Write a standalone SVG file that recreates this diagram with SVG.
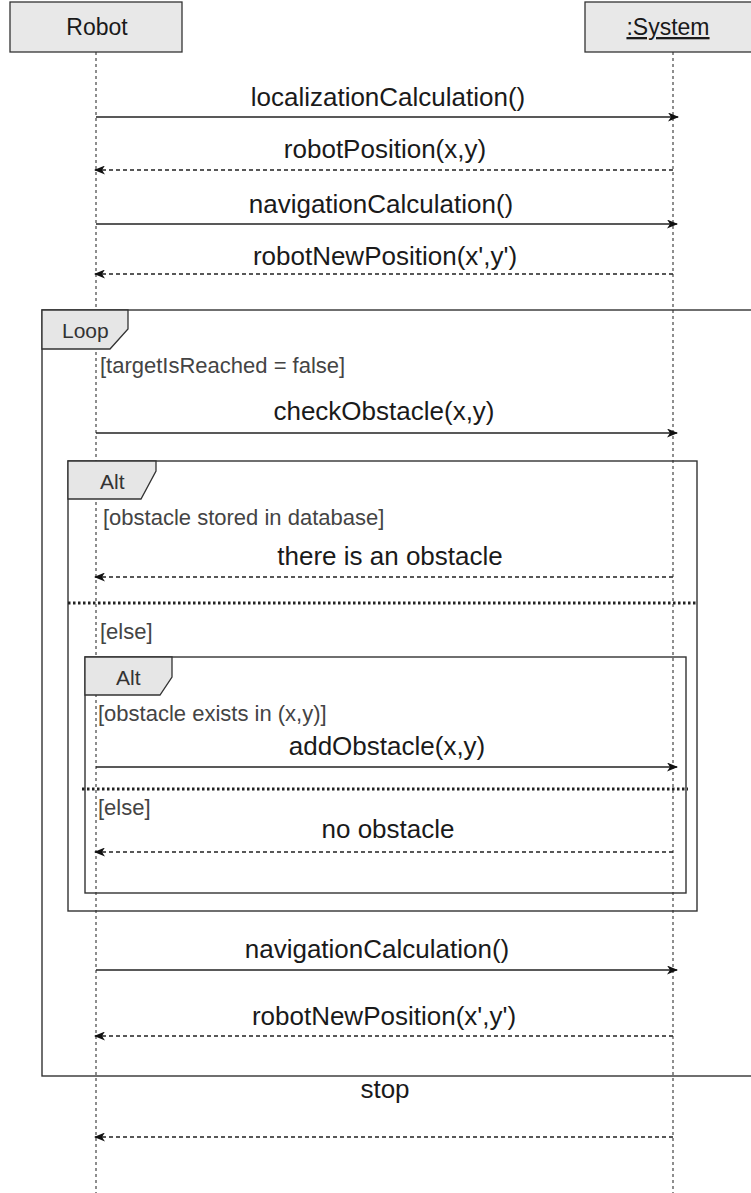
<svg xmlns="http://www.w3.org/2000/svg" width="751" height="1193" viewBox="0 0 751 1193">
<style>
.bg{fill:#fff}
.box{fill:#e8e8e8;stroke:#333;stroke-width:1.3}
.life{stroke:#444;stroke-width:1.2;stroke-dasharray:3 3;fill:none}
.frame{fill:none;stroke:#333;stroke-width:1.4}
.tab{fill:#e6e6e6;stroke:#333;stroke-width:1.3}
.sep{stroke:#222;stroke-width:3;stroke-dasharray:2.5 2.5;fill:none}
.call{stroke:#222;stroke-width:1.4;fill:none;marker-end:url(#ah)}
.ret{stroke:#222;stroke-width:1.3;stroke-dasharray:4 3;fill:none;marker-end:url(#ah)}
.msg{font-family:"Liberation Sans",Arial,sans-serif;font-size:26px;fill:#1a1a1a;text-anchor:middle}
.name{font-family:"Liberation Sans",Arial,sans-serif;font-size:23px;fill:#1a1a1a;text-anchor:middle}
.guard{font-family:"Liberation Sans",Arial,sans-serif;font-size:22px;fill:#444}
.tabt{font-family:"Liberation Sans",Arial,sans-serif;font-size:21px;fill:#333}
</style>
<defs>
<marker id="ah" markerWidth="11" markerHeight="9" refX="10" refY="4.5" orient="auto" markerUnits="userSpaceOnUse">
<path d="M0,0 L11,4.5 L0,9 L3,4.5 Z" fill="#111"/>
</marker>
</defs>
<rect class="bg" x="0" y="0" width="751" height="1193"/>

<g id="lifelines">
<line class="life" x1="96" y1="52" x2="96" y2="1193"/>
<line class="life" x1="673" y1="52" x2="673" y2="1193"/>
</g>

<g id="robot">
<rect class="box" x="10" y="2" width="172" height="50"/>
<text class="name" x="97" y="35">Robot</text>
</g>
<g id="system">
<rect class="box" x="585" y="2" width="170" height="50"/>
<text class="name" x="668" y="35" text-decoration="underline">:System</text>
</g>

<g id="loop">
<rect class="frame" x="42" y="310" width="720" height="766"/>
<path class="tab" d="M42,310 H128 V329 L110,349 H42 Z"/>
<text class="tabt" x="62" y="338">Loop</text>
<text class="guard" x="100" y="373">[targetIsReached = false]</text>
</g>

<g id="alt-outer">
<rect class="frame" x="68" y="461" width="629" height="450"/>
<path class="tab" d="M68,461 H156 V471 L141,499 H68 Z"/>
<text class="tabt" x="100" y="489">Alt</text>
<text class="guard" x="103" y="525">[obstacle stored in database]</text>
<line class="sep" x1="68" y1="603" x2="697" y2="603"/>
<text class="guard" x="100" y="639">[else]</text>
</g>

<g id="alt-inner">
<rect class="frame" x="85" y="657" width="601" height="236"/>
<path class="tab" d="M85,657 H172 V677 L160,695 H85 Z"/>
<text class="tabt" x="116" y="685">Alt</text>
<text class="guard" x="98" y="721">[obstacle exists in (x,y)]</text>
<line class="sep" x1="82" y1="789" x2="688" y2="789"/>
<text class="guard" x="98" y="815">[else]</text>
</g>

<g id="connectors">
<line class="call" x1="96" y1="117" x2="678" y2="117"/>
<text class="msg" x="388" y="106">localizationCalculation()</text>
<line class="ret" x1="673" y1="170" x2="95" y2="170"/>
<text class="msg" x="385" y="158">robotPosition(x,y)</text>
<line class="call" x1="96" y1="224" x2="677" y2="224"/>
<text class="msg" x="381" y="213">navigationCalculation()</text>
<line class="ret" x1="673" y1="274" x2="95" y2="274"/>
<text class="msg" x="385" y="265">robotNewPosition(x',y')</text>

<line class="call" x1="96" y1="433" x2="677" y2="433"/>
<text class="msg" x="384" y="420">checkObstacle(x,y)</text>

<line class="ret" x1="673" y1="577" x2="95" y2="577"/>
<text class="msg" x="390" y="565">there is an obstacle</text>

<line class="call" x1="96" y1="767" x2="677" y2="767"/>
<text class="msg" x="387" y="755">addObstacle(x,y)</text>

<line class="ret" x1="673" y1="852" x2="95" y2="852"/>
<text class="msg" x="388" y="838">no obstacle</text>

<line class="call" x1="96" y1="970" x2="677" y2="970"/>
<text class="msg" x="377" y="958">navigationCalculation()</text>
<line class="ret" x1="673" y1="1036" x2="95" y2="1036"/>
<text class="msg" x="384" y="1025">robotNewPosition(x',y')</text>

<line class="ret" x1="673" y1="1137" x2="95" y2="1137"/>
<text class="msg" x="385" y="1098">stop</text>
</g>
</svg>
